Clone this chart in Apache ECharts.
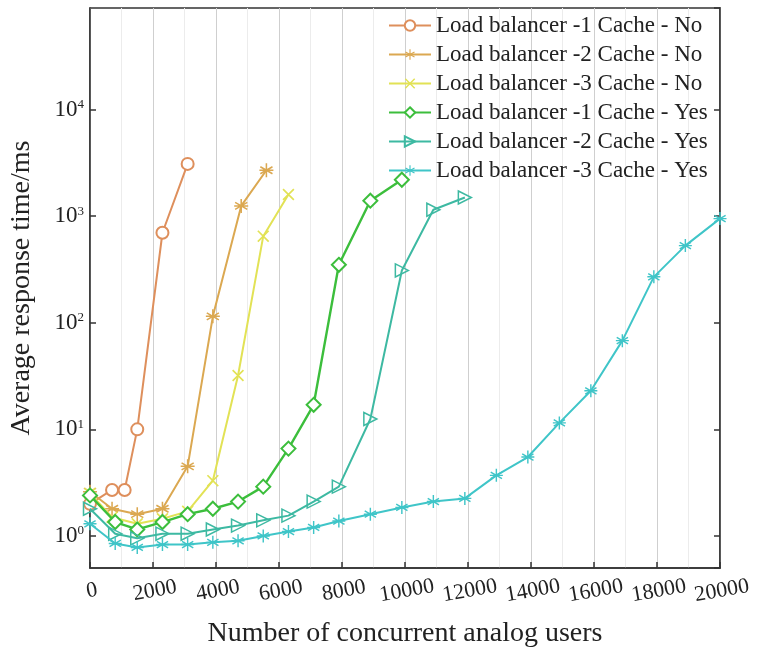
<!DOCTYPE html>
<html>
<head>
<meta charset="utf-8">
<script src="https://cdn.jsdelivr.net/npm/echarts@6/dist/echarts.min.js"></script>
<style>
  html, body { margin: 0; padding: 0; background: #fff; }
  #chart { width: 759px; height: 662px; }
</style>
</head>
<body>
<div id="chart"></div>
<script>
// series names (legend order)
const seriesNames = [
  'Load balancer -1 Cache - No',
  'Load balancer -2 Cache - No',
  'Load balancer -3 Cache - No',
  'Load balancer -1 Cache - Yes',
  'Load balancer -2 Cache - Yes',
  'Load balancer -3 Cache - Yes'
]

// concurrent users / response time (ms)
const lb1NoX = [0, 700, 1100, 1500, 2300, 3100]
const lb1NoY = [2.0, 2.7, 2.7, 10, 700, 3100]

const lb2NoX = [0, 700, 1500, 2300, 3100, 3900, 4800, 5600]
const lb2NoY = [2.6, 1.8, 1.6, 1.8, 4.5, 115, 1250, 2700]

const lb3NoX = [0, 700, 1500, 2300, 3100, 3900, 4700, 5500, 6300]
const lb3NoY = [2.5, 1.5, 1.3, 1.45, 1.7, 3.3, 32, 650, 1600]

const lb1YesX = [0, 800, 1500, 2300, 3100, 3900, 4700, 5500, 6300, 7100, 7900, 8900, 9900]
const lb1YesY = [2.4, 1.35, 1.15, 1.35, 1.6, 1.8, 2.1, 2.9, 6.6, 17, 350, 1400, 2200]

const lb2YesX = [0, 800, 1500, 2300, 3100, 3900, 4700, 5500, 6300, 7100, 7900, 8900, 9900, 10900, 11900]
const lb2YesY = [1.8, 1.05, 0.95, 1.05, 1.05, 1.15, 1.25, 1.4, 1.55, 2.1, 2.9, 12.5, 310, 1150, 1500]

const lb3YesX = [0, 800, 1500, 2300, 3100, 3900, 4700, 5500, 6300, 7100, 7900, 8900, 9900, 10900, 11900, 12900, 13900, 14900, 15900, 16900, 17900, 18900, 20000]
const lb3YesY = [1.3, 0.85, 0.78, 0.83, 0.83, 0.87, 0.9, 1.0, 1.1, 1.2, 1.38, 1.6, 1.85, 2.1, 2.25, 3.7, 5.5, 11.5, 23, 68, 270, 530, 950]

// x axis ticks
const xMin = 0
const xMax = 20000
const xStep = 2000

const colors = ['#DE8F5C', '#DBA851', '#E2E255', '#3CBE3C', '#3DB9A2', '#3FC5C8']
const font = '"Liberation Serif", "DejaVu Serif", serif'

// thin bars through the centre -> asterisk / cross symbols
const barsPath = (angles, w) => {
  let d = ''
  angles.forEach(a => {
    const r = a * Math.PI / 180
    const cx = Math.cos(r) * 5, cy = Math.sin(r) * 5
    const nx = -Math.sin(r) * w / 2, ny = Math.cos(r) * w / 2
    const p = [
      [5 - cx + nx, 5 - cy + ny], [5 + cx + nx, 5 + cy + ny],
      [5 + cx - nx, 5 + cy - ny], [5 - cx - nx, 5 - cy - ny]
    ]
    d += 'M' + p.map(q => q[0].toFixed(2) + ',' + q[1].toFixed(2)).join('L') + 'Z'
  })
  return 'path://' + d
}

const starSym = barsPath([90, 30, 150, 0], 1.1)
const crossSym = barsPath([45, 135], 1.1)
const triSym = 'path://M0,0L10,5L0,10Z'

const pairs = (xs, ys) => xs.map((x, i) => [x, ys[i]])

const makeSeries = (idx, xs, ys, symbol, size, hollow) => ({
  name: seriesNames[idx],
  type: 'line',
  data: pairs(xs, ys),
  symbol: symbol,
  symbolSize: size,
  showSymbol: true,
  lineStyle: { color: colors[idx], width: idx === 3 ? 2.4 : 2 },
  itemStyle: hollow
    ? { color: 'rgba(255,255,255,0)', borderColor: colors[idx], borderWidth: 1.5 }
    : { color: colors[idx] },
  emphasis: { disabled: true },
  z: 3 + idx
})

const chart = echarts.init(document.getElementById('chart'))

const option = {
  animation: false,
  grid: {
    left: 90, right: 39, top: 8, bottom: 94,
    show: true, borderColor: '#333', borderWidth: 1.5, backgroundColor: 'transparent'
  },
  legend: {
    data: seriesNames,
    orient: 'vertical',
    left: 383,
    top: 9,
    itemWidth: 42,
    itemHeight: 13,
    itemGap: 6,
    textStyle: { fontFamily: font, fontSize: 23, color: '#222', lineHeight: 23 }
  },
  xAxis: {
    type: 'value',
    min: xMin,
    max: xMax,
    interval: xStep,
    name: 'Number of concurrent analog users',
    nameLocation: 'middle',
    nameGap: 52,
    nameTextStyle: { fontFamily: font, fontSize: 28, color: '#222' },
    axisLine: { show: true, lineStyle: { color: '#333', width: 1.5 } },
    axisTick: { show: true, inside: true, length: 6, lineStyle: { color: '#333', width: 1.5 } },
    axisLabel: {
      fontFamily: font, fontSize: 22, color: '#222', margin: 12, rotate: 10,
      align: 'center', verticalAlign: 'top',
      formatter: v => String(v)
    },
    splitLine: { show: true, lineStyle: { color: '#cfcfcf', width: 1 } },
    minorTick: { show: false, splitNumber: 2 },
    minorSplitLine: { show: true, lineStyle: { color: '#ececec', width: 1 } }
  },
  yAxis: [
    {
      type: 'log',
      logBase: 10,
      min: 0.5,
      max: 90000,
      name: 'Average response time/ms',
      nameLocation: 'middle',
      nameGap: 54,
      nameTextStyle: { fontFamily: font, fontSize: 28, color: '#222' },
      axisLine: { show: true, lineStyle: { color: '#333', width: 1.5 } },
      axisTick: { show: true, inside: true, length: 6, lineStyle: { color: '#333', width: 1.5 } },
      axisLabel: {
        showMinLabel: false,
        showMaxLabel: false,
        margin: 6,
        formatter: v => '{b|10}{s|' + Math.round(Math.log10(v)) + '}',
        rich: {
          b: { fontFamily: font, fontSize: 23, color: '#222' },
          s: { fontFamily: font, fontSize: 13, color: '#222', verticalAlign: 'top', padding: [0, 0, 10, 0] }
        }
      },
      splitLine: { show: false }
    },
    {
      type: 'log',
      logBase: 10,
      min: 0.5,
      max: 90000,
      position: 'right',
      axisLine: { show: true, lineStyle: { color: '#333', width: 1.5 } },
      axisTick: { show: true, inside: true, length: 6, lineStyle: { color: '#333', width: 1.5 } },
      axisLabel: { show: false },
      splitLine: { show: false }
    }
  ],
  series: [
    makeSeries(0, lb1NoX, lb1NoY, 'emptyCircle', 12, false),
    makeSeries(1, lb2NoX, lb2NoY, starSym, 14, false),
    makeSeries(2, lb3NoX, lb3NoY, crossSym, 12, false),
    makeSeries(3, lb1YesX, lb1YesY, 'emptyDiamond', 14, false),
    makeSeries(4, lb2YesX, lb2YesY, triSym, 13, true),
    makeSeries(5, lb3YesX, lb3YesY, starSym, 13, false)
  ]
}

chart.setOption(option)
</script>
</body>
</html>
